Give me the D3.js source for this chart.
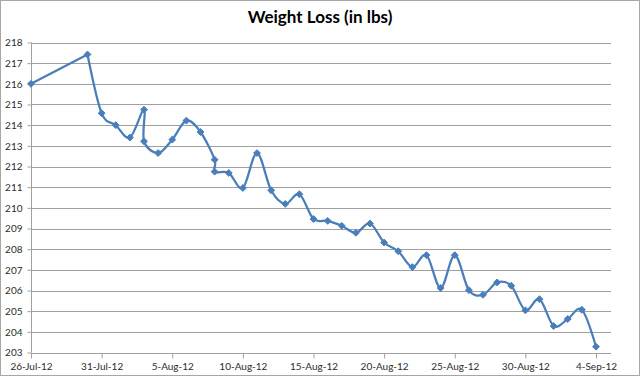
<!DOCTYPE html>
<html>
<head>
<meta charset="utf-8">
<script src="https://cdn.jsdelivr.net/npm/d3@7"></script>
<style>
html,body{margin:0;padding:0;background:#fff;}
svg{display:block;}
</style>
</head>
<body>
<svg id="chart" width="640" height="378"></svg>
<script>
const title = "Weight Loss (in lbs)";
const dates = [
  "2012-07-26","2012-07-30","2012-07-31","2012-08-01","2012-08-02","2012-08-03","2012-08-03",
  "2012-08-04","2012-08-05","2012-08-06","2012-08-07","2012-08-08","2012-08-08","2012-08-09",
  "2012-08-10","2012-08-11","2012-08-12","2012-08-13","2012-08-14","2012-08-15","2012-08-16",
  "2012-08-17","2012-08-18","2012-08-19","2012-08-20","2012-08-21","2012-08-22","2012-08-23",
  "2012-08-24","2012-08-25","2012-08-26","2012-08-27","2012-08-28","2012-08-29","2012-08-30",
  "2012-08-31","2012-09-01","2012-09-02","2012-09-03","2012-09-04"
];
const weights = [
  216.0,217.42,214.58,214.0,213.4,214.75,213.22,
  212.65,213.3,214.22,213.67,212.33,211.75,211.69,
  210.96,212.65,210.85,210.19,210.66,209.46,209.37,
  209.13,208.79,209.24,208.32,207.9,207.13,207.71,
  206.12,207.71,206.02,205.79,206.39,206.23,205.04,
  205.58,204.28,204.62,205.07,203.28
];
const yTicks = [203,204,205,206,207,208,209,210,211,212,213,214,215,216,217,218];
const xTickDates = ["2012-07-26","2012-07-31","2012-08-05","2012-08-10","2012-08-15","2012-08-20","2012-08-25","2012-08-30","2012-09-04"];

(function(){
const parse = d3.utcParse("%Y-%m-%d");
const data = dates.map((d,i)=>({date:parse(d), w:weights[i]}));

const svg = d3.select("#chart");
const W = 640, H = 378;
const pL = 31, pR = 611, pT = 42.5, pB = 352.5;
const xEnd = 596;
const font = "Lato, 'Open Sans', sans-serif";

svg.append("rect").attr("x",0.5).attr("y",0.5).attr("width",W-1).attr("height",H-3)
  .attr("fill","#fff").attr("stroke","#a6a6a6").attr("stroke-width",1);

const x = d3.scaleUtc().domain([parse(xTickDates[0]), parse(xTickDates[xTickDates.length-1])]).range([pL, xEnd]);
const y = d3.scaleLinear().domain([203,218]).range([pB, pT]);

// gridlines
svg.append("g").selectAll("line").data(yTicks.slice(1)).join("line")
  .attr("x1",pL).attr("x2",pR)
  .attr("y1",d=>Math.round(y(d))+0.5).attr("y2",d=>Math.round(y(d))+0.5)
  .attr("stroke","#a0a0a0").attr("stroke-width",1);

// y axis
const yAxis = d3.axisLeft(y).tickValues(yTicks).tickSize(4).tickPadding(5).tickFormat(d3.format("d"));
const gy = svg.append("g").attr("transform",`translate(${pL+0.5},0)`).call(yAxis);
gy.select(".domain").attr("stroke","#a0a0a0").attr("d",`M0,${pT}V${pB}`);
gy.selectAll(".tick line").attr("stroke","#a0a0a0");
gy.selectAll(".tick text").attr("font-family",font).attr("font-size",10).attr("fill","#2b2b2b");

// x axis
const xAxis = d3.axisBottom(x).tickValues(xTickDates.map(parse)).tickSize(5).tickPadding(4)
  .tickFormat(d3.utcFormat("%-d-%b-%y"));
const gx = svg.append("g").attr("transform",`translate(0,${Math.round(pB)+0.5})`).call(xAxis);
gx.select(".domain").attr("stroke","#a0a0a0").attr("d",`M${pL},0H${pR}`);
gx.selectAll(".tick line").attr("stroke","#a0a0a0");
gx.selectAll(".tick text").attr("font-family",font).attr("font-size",10).attr("fill","#2b2b2b");

// title
svg.append("text").attr("x",320).attr("y",23).attr("text-anchor","middle")
  .attr("font-family",font).attr("font-weight","bold").attr("font-size",17)
  .attr("fill","#000").text(title);

// line: straight across the gap (26-Jul to 30-Jul), smoothed afterwards
const straight = d3.line().x(d=>x(d.date)).y(d=>y(d.w));
const smooth = d3.line().x(d=>x(d.date)).y(d=>y(d.w)).curve(d3.curveCardinal.tension(0));
const lineStyle = p => p.attr("fill","none").attr("stroke","#4a7ebb").attr("stroke-width",2.25)
  .attr("stroke-linejoin","round").attr("stroke-linecap","round");
svg.append("path").datum(data.slice(0,2)).attr("d",straight).call(lineStyle);
svg.append("path").datum(data.slice(1)).attr("d",smooth).call(lineStyle);

// markers
const sym = d3.symbol().type(d3.symbolDiamond2).size(30);
svg.append("g").selectAll("path").data(data).join("path")
  .attr("d",sym).attr("transform",d=>`translate(${x(d.date)},${y(d.w)})`)
  .attr("fill","#4a7ebb").attr("stroke","#4a7ebb").attr("stroke-width",1);
})();
</script>
</body>
</html>
